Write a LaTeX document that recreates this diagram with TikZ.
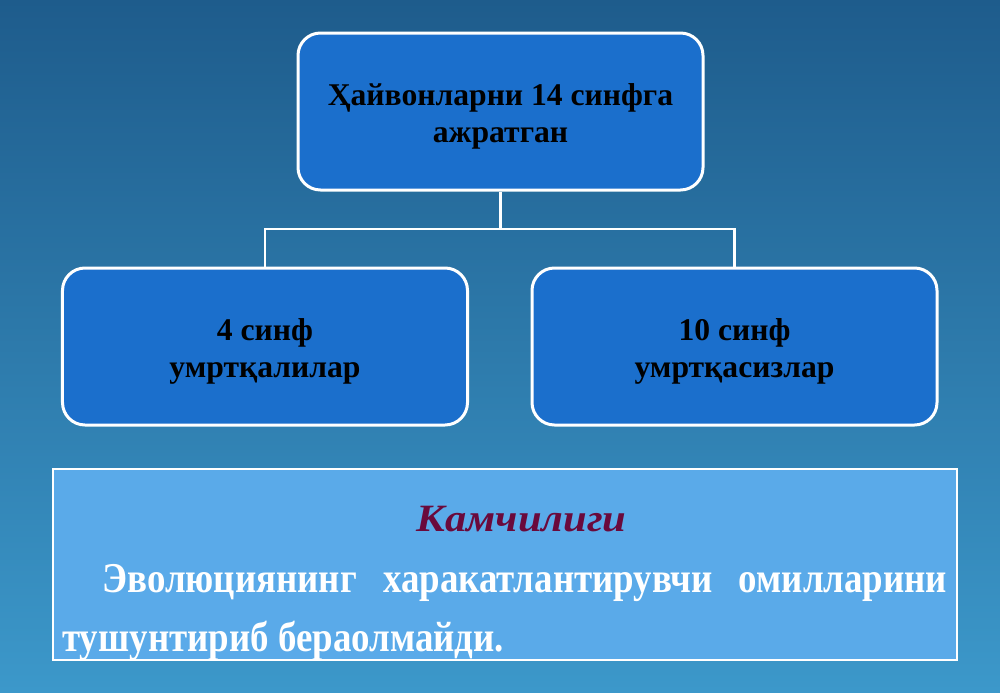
\documentclass[tikz,border=0pt]{standalone}
\usepackage{fontspec}
\setmainfont{Liberation Serif}
\usepackage{tikz}

\definecolor{bgtop}{RGB}{30,92,140}
\definecolor{bgbottom}{RGB}{60,152,202}
\definecolor{boxblue}{RGB}{27,111,204}
\definecolor{paleblue}{RGB}{90,170,233}
\definecolor{maroon}{RGB}{106,10,60}

% strut that pushes box text a little down
\newcommand{\dropline}{\rule{0pt}{18pt}}

\tikzset{
    classbox/.style={draw=white, line width=0.6mm, rounded corners=4.5mm,
        fill=boxblue, minimum width=81mm, minimum height=31.4mm,
        align=center, font=\fontsize{18}{21}\selectfont\bfseries},
    link/.style={draw=white, line width=0.5mm},
    notebox/.style={draw=white, line width=0.3mm, fill=paleblue,
        minimum width=180.8mm, minimum height=38.2mm, inner sep=0pt},
    notetext/.style={text=white, inner sep=0pt,
        font=\fontsize{21}{25}\selectfont\bfseries}
}

\begin{document}
\begin{tikzpicture}[x=0.2mm, y=-0.2mm]

        % Background
        \useasboundingbox (0,0) rectangle (1000,692);
        \shade[top color=bgtop, bottom color=bgbottom] (0,0) rectangle (1000,692);

        % Classes
        \node[classbox] (whole) at (500.5,111.5) {\dropline Ҳайвонларни 14 синфга\\ажратган};
        \node[classbox] (vert) at (265,346.5) {\dropline 4 синф\\умртқалилар};
        \node[classbox] (invert) at (734.5,346.5) {\dropline 10 синф\\умртқасизлар};

        % Connectors
        \coordinate (fork) at (500.5,229);
        \draw[link] (whole.south) -- (fork);
        \draw[link] (fork) -| (vert.north);
        \draw[link] (fork) -| (invert.north);

        % Shortcoming
        \node[notebox] (flaw) at (505,564.5) {};
        \node[anchor=base, text=maroon, inner sep=0pt,
            font=\fontsize{22}{26}\selectfont\bfseries\itshape]
            (flawtitle) at (521.5,531) {\scalebox{1.1}[1]{Камчилиги}};
        \node[notetext, anchor=base west] (flawline1) at (62,592)
            {\scalebox{1}[1.15]{\makebox[177mm][s]{\hspace*{8mm}Эволюциянинг\hfill харакатлантирувчи\hfill омилларини}}};
        \node[notetext, anchor=base west] (flawline2) at (62,651)
            {\scalebox{1}[1.15]{тушунтириб бераолмайди.}};

    \end{tikzpicture}
\end{document}
